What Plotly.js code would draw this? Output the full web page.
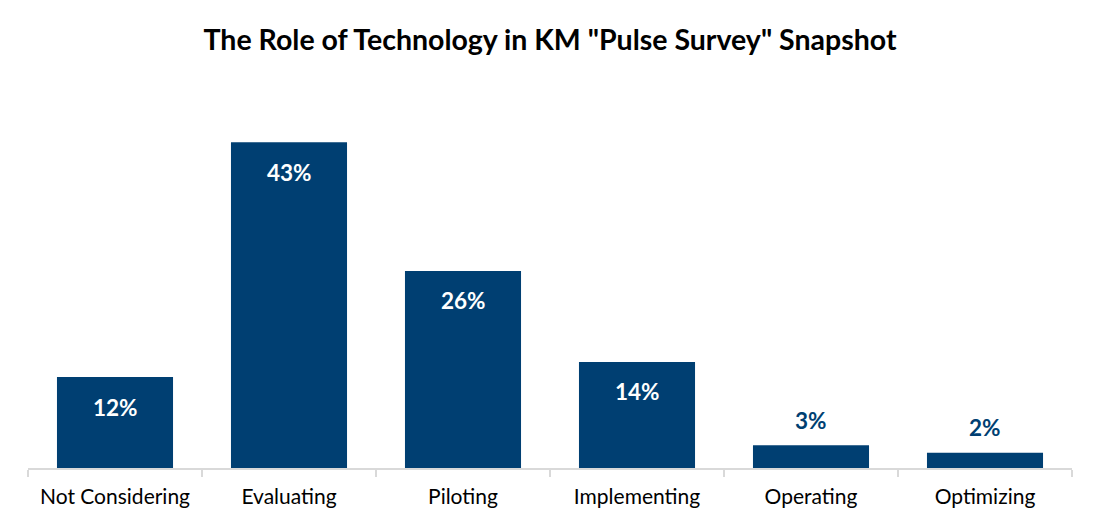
<!DOCTYPE html>
<html>
<head>
<meta charset="utf-8">
<script src="https://cdn.plot.ly/plotly-3.0.1.min.js"></script>
<style>
  html, body { margin: 0; padding: 0; background: #fff; }
  #chart { width: 1100px; height: 529px; }
</style>
</head>
<body>
<div id="chart"></div>
<script>
const stages = ['Not Considering', 'Evaluating', 'Piloting', 'Implementing', 'Operating', 'Optimizing'];
const shares = [12, 43, 26, 14, 3, 2];
const shareLabels = ['12%', '43%', '26%', '14%', '3%', '2%'];

const barColor = '#003f72';
const fontFamily = 'Lato, "Open Sans", sans-serif';

// small bars get the label above, the rest inside near the top
let notes = stages.map((s, i) => {
    let inside = shares[i] >= 10;
    return {
        x: s,
        y: shares[i],
        text: '<b>' + shareLabels[i] + '</b>',
        showarrow: false,
        yanchor: 'middle',
        yshift: inside ? -30 : 25,
        font: {family: fontFamily, size: 22.5, color: inside ? '#ffffff' : barColor},
    };
});

let trace = {
    x: stages,
    y: shares,
    type: 'bar',
    marker: {color: barColor},
    hoverinfo: 'none',
};

let layout = {
    width: 1100,
    height: 529,
    margin: {l: 28, r: 28, t: 127, b: 61},
    paper_bgcolor: '#ffffff',
    plot_bgcolor: '#ffffff',
    bargap: 0.333,
    showlegend: false,
    title: {
        text: '<b>The Role of Technology in KM "Pulse Survey" Snapshot</b>',
        x: 0.5,
        xanchor: 'center',
        y: 0.925,
        yanchor: 'middle',
        font: {family: fontFamily, size: 28.5, color: '#000000'},
    },
    xaxis: {
        showline: true,
        linecolor: '#d9d9d9',
        linewidth: 1.5,
        ticks: 'outside',
        tickson: 'boundaries',
        ticklen: 7,
        tickcolor: '#d9d9d9',
        tickwidth: 1.5,
        ticklabelstandoff: 9,
        tickfont: {family: fontFamily, size: 21, color: '#000000'},
        fixedrange: true,
    },
    yaxis: {
        range: [0, 45],
        visible: false,
        showgrid: false,
        zeroline: false,
        fixedrange: true,
    },
    annotations: notes,
};

Plotly.newPlot('chart', [trace], layout, {displayModeBar: false, staticPlot: true});
</script>
</body>
</html>
